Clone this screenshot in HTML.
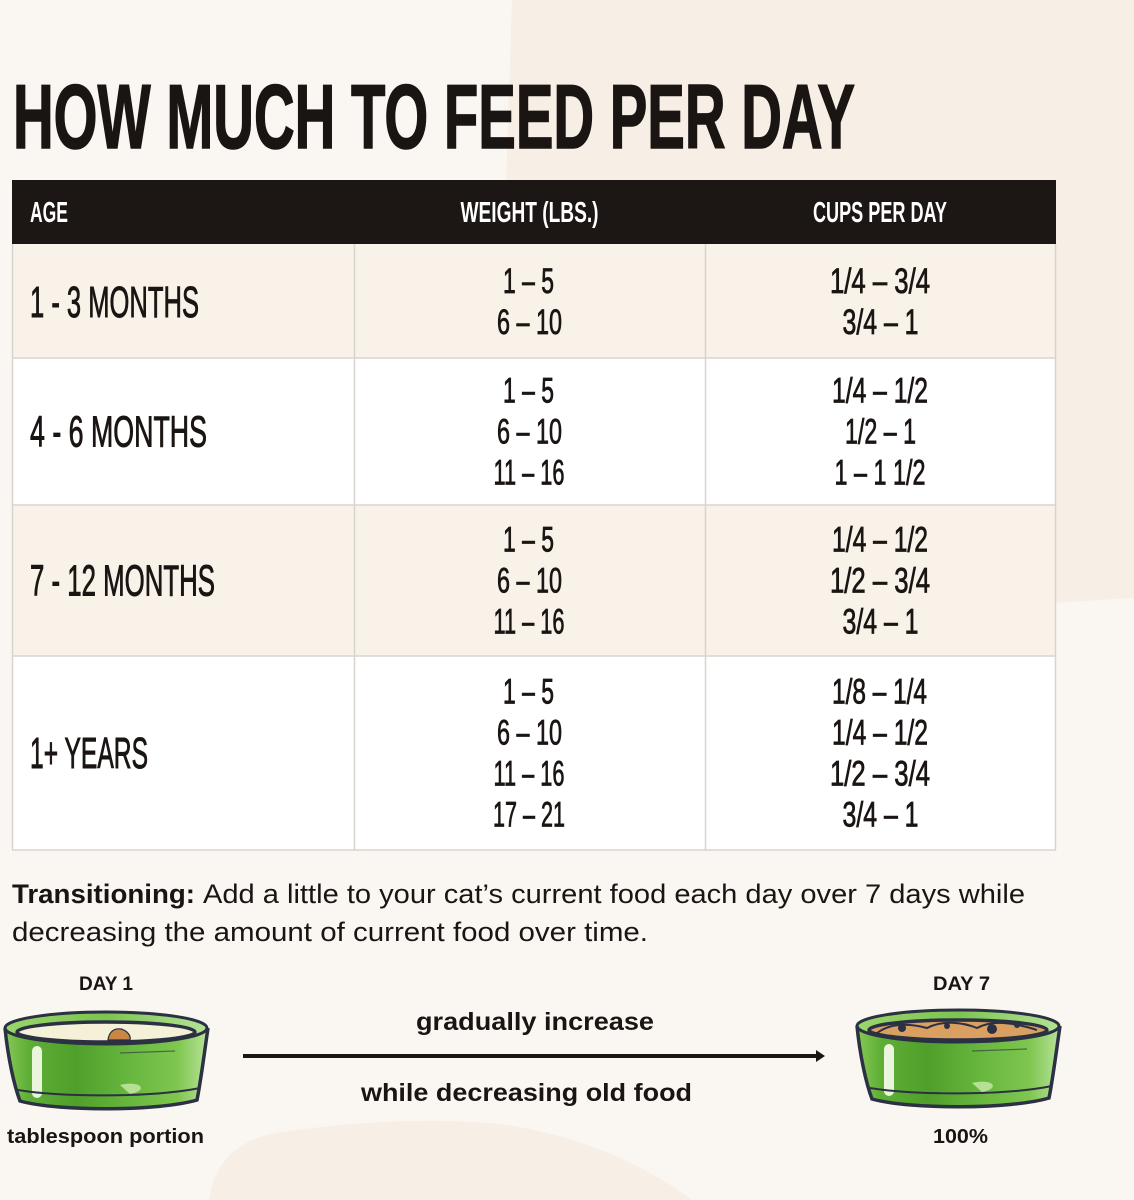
<!DOCTYPE html>
<html>
<head>
<meta charset="utf-8">
<style>
html,body{margin:0;padding:0;background:#faf7f2;}
svg{display:block;}
</style>
</head>
<body>
<svg width="1134" height="1200" viewBox="0 0 1134 1200" xmlns="http://www.w3.org/2000/svg">
  <defs>
    <linearGradient id="bowlg" x1="0" y1="0" x2="1" y2="0">
      <stop offset="0" stop-color="#86c955"/>
      <stop offset="0.12" stop-color="#5eae36"/>
      <stop offset="0.35" stop-color="#4f9f2b"/>
      <stop offset="0.6" stop-color="#66b63d"/>
      <stop offset="0.85" stop-color="#7fc64f"/>
      <stop offset="1" stop-color="#b8e39a"/>
    </linearGradient>
    <linearGradient id="rimg" x1="0" y1="0" x2="1" y2="0">
      <stop offset="0" stop-color="#9ad66c"/>
      <stop offset="0.5" stop-color="#7cc450"/>
      <stop offset="1" stop-color="#b4e295"/>
    </linearGradient>
  </defs>

  <!-- background -->
  <rect x="0" y="0" width="1134" height="1200" fill="#faf7f2"/>
  <path d="M512 0 L1134 0 L1134 598 C1100 600 1070 602 1040 604 L500 640 L506 180 Z" fill="#f7efe6"/>
  <path d="M209 1200 C214 1170 228 1140 282 1132 C350 1122 430 1117 500 1124 C580 1134 650 1168 692 1200 Z" fill="#f7efe6"/>

  <!-- title -->
  <text x="13" y="148" font-family="'Liberation Sans Narrow','Liberation Sans',sans-serif" font-weight="bold" font-size="91" fill="#1a1513" stroke="#1a1513" stroke-width="1.5" textLength="842" lengthAdjust="spacingAndGlyphs">HOW MUCH TO FEED PER DAY</text>

  <!-- table -->
  <rect x="12" y="180" width="1044" height="64" fill="#1c1614"/>
  <rect x="12" y="244" width="1044" height="114" fill="#f9f2e9"/>
  <rect x="12" y="358" width="1044" height="147" fill="#ffffff"/>
  <rect x="12" y="505" width="1044" height="151" fill="#f9f2e9"/>
  <rect x="12" y="656" width="1044" height="194" fill="#ffffff"/>
  <g stroke="#d8d3cd" stroke-width="1.5" fill="none">
    <line x1="12" y1="358" x2="1056" y2="358"/>
    <line x1="12" y1="505" x2="1056" y2="505"/>
    <line x1="12" y1="656" x2="1056" y2="656"/>
    <line x1="12" y1="850" x2="1056" y2="850"/>
    <line x1="12.5" y1="244" x2="12.5" y2="850"/>
    <line x1="354.5" y1="244" x2="354.5" y2="850"/>
    <line x1="705.5" y1="244" x2="705.5" y2="850"/>
    <line x1="1055.5" y1="244" x2="1055.5" y2="850"/>
  </g>

  <g font-family="'Liberation Sans Narrow','Liberation Sans',sans-serif">
    <!-- header -->
    <g fill="#ffffff" font-size="29" font-weight="bold">
      <text x="30" y="222" textLength="38" lengthAdjust="spacingAndGlyphs">AGE</text>
      <text x="460.5" y="222" textLength="138" lengthAdjust="spacingAndGlyphs">WEIGHT (LBS.)</text>
      <text x="813" y="222" textLength="134" lengthAdjust="spacingAndGlyphs">CUPS PER DAY</text>
    </g>
    <!-- age labels -->
    <g fill="#1a1513" font-size="43.5" stroke="#1a1513" stroke-width="0.9">
      <text x="30" y="317" textLength="169" lengthAdjust="spacingAndGlyphs">1 - 3 MONTHS</text>
      <text x="30" y="446.5" textLength="177" lengthAdjust="spacingAndGlyphs">4 - 6 MONTHS</text>
      <text x="30" y="595.5" textLength="185" lengthAdjust="spacingAndGlyphs">7 - 12 MONTHS</text>
      <text x="30" y="768" textLength="118" lengthAdjust="spacingAndGlyphs">1+ YEARS</text>
    </g>
    <!-- weight values -->
    <g fill="#1a1513" font-size="35" stroke="#1a1513" stroke-width="0.8">
      <text x="503" y="293" textLength="51" lengthAdjust="spacingAndGlyphs">1 – 5</text>
      <text x="497" y="334" textLength="65" lengthAdjust="spacingAndGlyphs">6 – 10</text>

      <text x="503" y="402.5" textLength="51" lengthAdjust="spacingAndGlyphs">1 – 5</text>
      <text x="497" y="443.5" textLength="65" lengthAdjust="spacingAndGlyphs">6 – 10</text>
      <text x="493.5" y="484.5" textLength="71" lengthAdjust="spacingAndGlyphs">11 – 16</text>

      <text x="503" y="551.5" textLength="51" lengthAdjust="spacingAndGlyphs">1 – 5</text>
      <text x="497" y="592.5" textLength="65" lengthAdjust="spacingAndGlyphs">6 – 10</text>
      <text x="493.5" y="633.5" textLength="71" lengthAdjust="spacingAndGlyphs">11 – 16</text>

      <text x="503" y="703.5" textLength="51" lengthAdjust="spacingAndGlyphs">1 – 5</text>
      <text x="497" y="744.5" textLength="65" lengthAdjust="spacingAndGlyphs">6 – 10</text>
      <text x="493.5" y="785.5" textLength="71" lengthAdjust="spacingAndGlyphs">11 – 16</text>
      <text x="493" y="826.5" textLength="72" lengthAdjust="spacingAndGlyphs">17 – 21</text>
    </g>
    <!-- cups values -->
    <g fill="#1a1513" font-size="35" stroke="#1a1513" stroke-width="0.8">
      <text x="830" y="293" textLength="100" lengthAdjust="spacingAndGlyphs">1/4 – 3/4</text>
      <text x="842.5" y="334" textLength="76" lengthAdjust="spacingAndGlyphs">3/4 – 1</text>

      <text x="832" y="402.5" textLength="96" lengthAdjust="spacingAndGlyphs">1/4 – 1/2</text>
      <text x="845" y="443.5" textLength="71" lengthAdjust="spacingAndGlyphs">1/2 – 1</text>
      <text x="834.5" y="484.5" textLength="91" lengthAdjust="spacingAndGlyphs">1 – 1 1/2</text>

      <text x="832" y="551.5" textLength="96" lengthAdjust="spacingAndGlyphs">1/4 – 1/2</text>
      <text x="830" y="592.5" textLength="100" lengthAdjust="spacingAndGlyphs">1/2 – 3/4</text>
      <text x="842.5" y="633.5" textLength="76" lengthAdjust="spacingAndGlyphs">3/4 – 1</text>

      <text x="832" y="703.5" textLength="95" lengthAdjust="spacingAndGlyphs">1/8 – 1/4</text>
      <text x="832" y="744.5" textLength="96" lengthAdjust="spacingAndGlyphs">1/4 – 1/2</text>
      <text x="830" y="785.5" textLength="100" lengthAdjust="spacingAndGlyphs">1/2 – 3/4</text>
      <text x="842.5" y="826.5" textLength="76" lengthAdjust="spacingAndGlyphs">3/4 – 1</text>
    </g>
  </g>

  <!-- transitioning paragraph -->
  <g font-family="'Liberation Sans',sans-serif" font-size="27" fill="#1a1513">
    <text x="12" y="903" font-weight="bold" textLength="183" lengthAdjust="spacingAndGlyphs">Transitioning:</text>
    <text x="203" y="903" textLength="822" lengthAdjust="spacingAndGlyphs">Add a little to your cat’s current food each day over 7 days while</text>
    <text x="12" y="941" textLength="636" lengthAdjust="spacingAndGlyphs">decreasing the amount of current food over time.</text>
  </g>

  <!-- bottom labels -->
  <g font-family="'Liberation Sans',sans-serif" font-weight="bold" fill="#1a1513">
    <text x="79" y="990" font-size="19.5" textLength="54" lengthAdjust="spacingAndGlyphs">DAY 1</text>
    <text x="933" y="990" font-size="19.5" textLength="57" lengthAdjust="spacingAndGlyphs">DAY 7</text>
    <text x="7" y="1143" font-size="20.5" textLength="197" lengthAdjust="spacingAndGlyphs">tablespoon portion</text>
    <text x="933" y="1143" font-size="20.5" textLength="55" lengthAdjust="spacingAndGlyphs">100%</text>
    <text x="416" y="1030" font-size="25" textLength="238" lengthAdjust="spacingAndGlyphs">gradually increase</text>
    <text x="361" y="1101" font-size="25" textLength="331" lengthAdjust="spacingAndGlyphs">while decreasing old food</text>
  </g>

  <!-- arrow -->
  <line x1="243" y1="1056" x2="820" y2="1056" stroke="#1a1513" stroke-width="4"/>
  <path d="M816 1050 L825 1056 L816 1062 Z" fill="#1a1513"/>

  <!-- Day 1 bowl -->
  <g>
    <path d="M5 1028 C8 1058 14 1085 20 1101 C60 1112 160 1111 197 1100 C201 1080 204 1055 208 1028 Z" fill="url(#bowlg)"/>
    <rect x="32" y="1046" width="10" height="52" rx="5" fill="#eaf5dd"/>
    <path d="M120 1085 C140 1080 150 1090 130 1094 Z" fill="#c9eaa9" opacity="0.8"/>
    <ellipse cx="106" cy="1028" rx="101" ry="16" fill="url(#rimg)" stroke="#2b3142" stroke-width="3"/>
    <ellipse cx="106" cy="1032" rx="89" ry="10" fill="#f4f1d8" stroke="#2b3142" stroke-width="3.5"/>
    <path d="M5 1028 C8 1058 14 1085 20 1101 C60 1112 160 1111 197 1100 C201 1080 204 1055 208 1028" fill="none" stroke="#2b3142" stroke-width="3.5"/>
    <path d="M18 1090 C60 1097 150 1098 200 1088" fill="none" stroke="#2b3142" stroke-width="2"/>
    <line x1="120" y1="1053" x2="175" y2="1051" stroke="#2b3142" stroke-width="1.2" opacity="0.6"/>
  </g>
  <!-- food Day 1 -->
  <path d="M108 1040 C109 1031 115 1028 121 1029 C128 1031 131 1036 130 1040 Z" fill="#c98645" stroke="#2b3142" stroke-width="1.2"/>

  <!-- Day 7 bowl -->
  <g transform="translate(852,-2)">
    <path d="M5 1028 C8 1058 14 1085 20 1101 C60 1112 160 1111 197 1100 C201 1080 204 1055 208 1028 Z" fill="url(#bowlg)"/>
    <rect x="32" y="1046" width="10" height="52" rx="5" fill="#eaf5dd"/>
    <path d="M120 1085 C140 1080 150 1090 130 1094 Z" fill="#c9eaa9" opacity="0.8"/>
    <ellipse cx="106" cy="1028" rx="101" ry="16" fill="url(#rimg)" stroke="#2b3142" stroke-width="3"/>
    <ellipse cx="106" cy="1032" rx="89" ry="10" fill="#d9a062" stroke="#2b3142" stroke-width="3.5"/>
    <path d="M25 1035 C40 1024 60 1026 75 1030 C90 1022 110 1024 125 1030 C140 1022 160 1024 185 1032" fill="none" stroke="#2b3142" stroke-width="2"/>
    <circle cx="50" cy="1030" r="4" fill="#2b3142"/>
    <circle cx="95" cy="1028" r="3" fill="#2b3142"/>
    <circle cx="140" cy="1031" r="5" fill="#2b3142"/>
    <circle cx="165" cy="1027" r="3" fill="#2b3142"/>
    <path d="M5 1028 C8 1058 14 1085 20 1101 C60 1112 160 1111 197 1100 C201 1080 204 1055 208 1028" fill="none" stroke="#2b3142" stroke-width="3.5"/>
    <path d="M18 1090 C60 1097 150 1098 200 1088" fill="none" stroke="#2b3142" stroke-width="2"/>
    <line x1="120" y1="1053" x2="175" y2="1051" stroke="#2b3142" stroke-width="1.2" opacity="0.6"/>
  </g>
</svg>
</body>
</html>
